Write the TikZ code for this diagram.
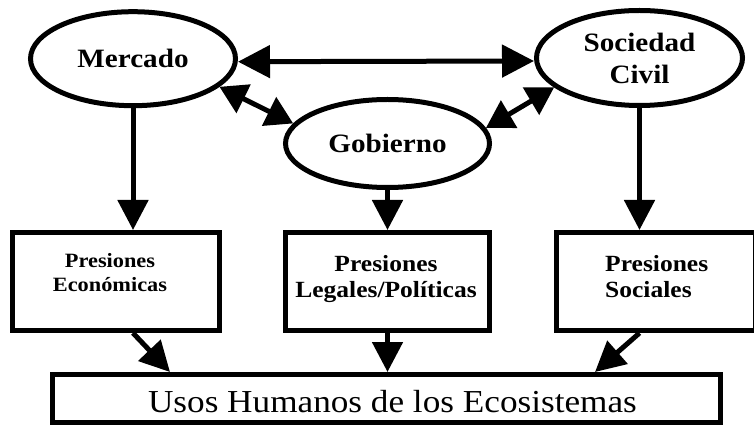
\documentclass[tikz,border=0pt]{standalone}
\usepackage{fontspec}
\setmainfont{Liberation Serif}[FakeStretch=1.1]
\usetikzlibrary{arrows.meta,shapes.geometric}
\begin{document}
\begin{tikzpicture}[x=1pt,y=-1pt,
  ell/.style={draw,line width=5pt,ellipse,inner sep=0pt,align=center,font=\fontsize{26.5}{32}\selectfont\bfseries},
  boxnode/.style={draw,line width=5pt,rectangle,inner sep=0pt},
  lbl/.style={inner sep=0pt,align=center},
  arr/.style={line width=5pt,-{Triangle[length=30pt,width=30pt]}},
  harr/.style={line width=5pt,{Triangle[length=32pt,width=32pt]}-{Triangle[length=32pt,width=32pt]}},
  darr/.style={line width=5pt,{Triangle[length=27pt,width=31pt]}-{Triangle[length=27pt,width=31pt]}},
]
\useasboundingbox[fill=white] (0,0) rectangle (754,427);
\node[ell,minimum width=205pt,minimum height=94pt] (merc) at (133,58.7) {Mercado};
\node[ell,minimum width=204pt,minimum height=88pt] (gob) at (387.5,143.5) {Gobierno};
\node[ell,minimum width=206pt,minimum height=95pt] (soc) at (639.5,58) {Sociedad\\Civil};
\node[boxnode,minimum width=207pt,minimum height=98pt] (econ) at (116,281.5) {};
\node[boxnode,minimum width=204pt,minimum height=98pt] (leg) at (387.5,281.5) {};
\node[boxnode,minimum width=199pt,minimum height=98pt] (socp) at (656,281.5) {};
\node[boxnode,minimum width=668pt,minimum height=48pt] (usos) at (386.5,398.5) {};
\node[lbl,font=\fontsize{20.3}{24}\selectfont\bfseries] (econT) at (110,273) {Presiones\\Económicas};
\node[lbl,font=\fontsize{23.2}{25.5}\selectfont\bfseries] (legT) at (386,279) {Presiones\\Legales/Políticas};
\node[lbl,align=left,anchor=west,font=\fontsize{23.2}{26}\selectfont\bfseries] (socpT) at (605,277) {Presiones\\Sociales};
\node[lbl,font=\fontsize{32}{36}\selectfont] (usosT) at (392.5,402) {Usos Humanos de los Ecosistemas};
\draw[arr] (merc.south) -- (merc.south |- econ.north);
\draw[arr] (gob.south) -- (gob.south |- leg.north);
\draw[arr] (soc.south) -- (soc.south |- socp.north);
\draw[arr] (merc.south |- econ.south) -- ([xshift=120pt]usos.north west);
\draw[arr] (gob.south |- leg.south) -- (gob.south |- usos.north);
\draw[arr] (soc.south |- socp.south) -- ([xshift=-128pt]usos.north east);
\draw[harr] ([yshift=-3pt]merc.east) -- ([yshift=-3pt]soc.west);
\draw[darr] (merc.-18) -- (gob.168);
\draw[darr] (gob.9) -- (soc.199);
\end{tikzpicture}
\end{document}
